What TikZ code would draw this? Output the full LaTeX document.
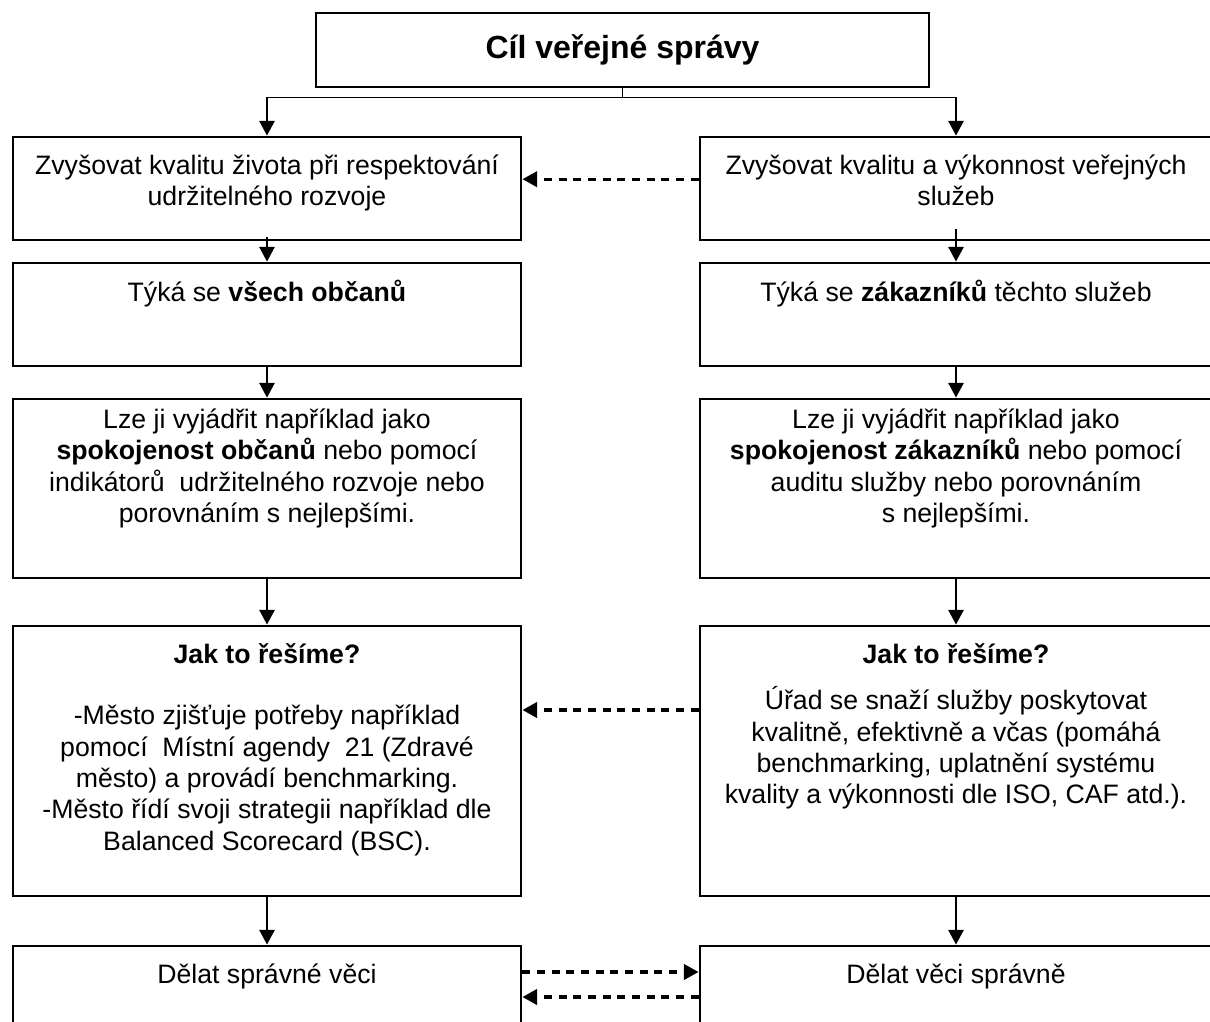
\documentclass[tikz,border=0pt]{standalone}
\usepackage{fontspec}
\setmainfont{Liberation Sans}
\usetikzlibrary{arrows.meta,positioning}

\begin{document}
\begin{tikzpicture}[x=0.75pt,y=-0.75pt,
    box/.style={draw,line width=2.2pt,inner sep=0pt},
    txt/.style={align=center,inner sep=0pt,font=\fontsize{20}{23.5}\selectfont},
    arr/.style={line width=1.3pt,-{Triangle[length=11pt,width=11.5pt]}},
    dasharr/.style={line width=2.3pt,dash pattern=on 6pt off 5pt,-{Triangle[length=11pt,width=11.5pt]}}]
      \useasboundingbox (0,0) rectangle (1210,1021);
      \clip (0,0) rectangle (1210,1021);

      % Goal on top
      \node[box,minimum width=459.75pt,minimum height=55.5pt,font=\fontsize{24}{28}\selectfont\bfseries] (goal) at (622.5,50) {Cíl veřejné správy};

      % Left column: doing the right things
      \node[box,minimum width=381pt,minimum height=77.25pt] (l1) at (267,188.5) {};
      \node[box,minimum width=381pt,minimum height=77.25pt] (l2) at (267,314.5) {};
      \node[box,minimum width=381pt,minimum height=134.25pt] (l3) at (267,488.5) {};
      \node[box,minimum width=381pt,minimum height=202.5pt] (l4) at (267,761) {};
      \node[box,minimum width=381pt,minimum height=75pt] (l5) at (267,996) {};

      % Right column: doing things right
      \node[box,minimum width=384pt,minimum height=77.25pt] (r1) at (956,188.5) {};
      \node[box,minimum width=384pt,minimum height=77.25pt] (r2) at (956,314.5) {};
      \node[box,minimum width=384pt,minimum height=134.25pt] (r3) at (956,488.5) {};
      \node[box,minimum width=384pt,minimum height=202.5pt] (r4) at (956,761) {};
      \node[box,minimum width=384pt,minimum height=75pt] (r5) at (956,996) {};

      % Texts, hung from the top of each box
      \node[txt,below=14.25pt of l1.north] (tl1) {Zvyšovat kvalitu života při respektování\\udržitelného rozvoje};
      \node[txt,below=13.5pt of l2.north] (tl2) {Týká se \textbf{všech občanů}};
      \node[txt,below=8.25pt of l3.north] (tl3) {Lze ji vyjádřit například jako\\\textbf{spokojenost občanů} nebo pomocí\\indikátorů\ \ udržitelného rozvoje nebo\\porovnáním s nejlepšími.};
      \node[txt,below=14.25pt of l4.north] (hl4) {\textbf{Jak to řešíme?}};
      \node[txt,below=60.25pt of l4.north] (tl4) {-Město zjišťuje potřeby například\\pomocí\ \ Místní agendy\ \ 21 (Zdravé\\město) a provádí benchmarking.\\-Město řídí svoji strategii například dle\\Balanced Scorecard (BSC).};
      \node[txt,below=14.25pt of l5.north] (tl5) {Dělat správné věci};

      \node[txt,below=14.25pt of r1.north] (tr1) {Zvyšovat kvalitu a výkonnost veřejných\\služeb};
      \node[txt,below=13.5pt of r2.north] (tr2) {Týká se \textbf{zákazníků} těchto služeb};
      \node[txt,below=8.25pt of r3.north] (tr3) {Lze ji vyjádřit například jako\\\textbf{spokojenost zákazníků} nebo pomocí\\auditu služby nebo porovnáním\\s nejlepšími.};
      \node[txt,below=14.25pt of r4.north] (hr4) {\textbf{Jak to řešíme?}};
      \node[txt,below=46.5pt of r4.north] (tr4) {Úřad se snaží služby poskytovat\\kvalitně, efektivně a včas (pomáhá\\benchmarking, uplatnění systému\\kvality a výkonnosti dle ISO, CAF atd.).};
      \node[txt,below=14.25pt of r5.north] (tr5) {Dělat věci správně};

      % Fork from the goal
      \draw[line width=1.3pt] (goal.south) -- ++(0,9) coordinate (fork);
      \draw[arr] (fork) -| (l1.north);
      \draw[arr] (fork) -| (r1.north);

      % Down the columns
      \draw[arr] ([yshift=3pt]l1.south) -- (l2.north);
      \draw[arr] (l2.south) -- (l3.north);
      \draw[arr] (l3.south) -- (l4.north);
      \draw[arr] (l4.south) -- (l5.north);
      \draw[arr] ([yshift=9pt]r1.south) -- (r2.north);
      \draw[arr] (r2.south) -- (r3.north);
      \draw[arr] (r3.south) -- (r4.north);
      \draw[arr] (r4.south) -- (r5.north);

      % Cross links
      \draw[dasharr] ([yshift=7pt]r1.west) -- ([yshift=7pt]l1.east);
      \draw[dasharr] ([yshift=38.25pt]r4.west) -- ([yshift=38.25pt]l4.east);
      \draw[dasharr] ([yshift=18pt]l5.east) -- ([yshift=18pt]r5.west);
      \draw[dasharr] ([yshift=-0.75pt]r5.west) -- ([yshift=-0.75pt]l5.east);
    \end{tikzpicture}
\end{document}
